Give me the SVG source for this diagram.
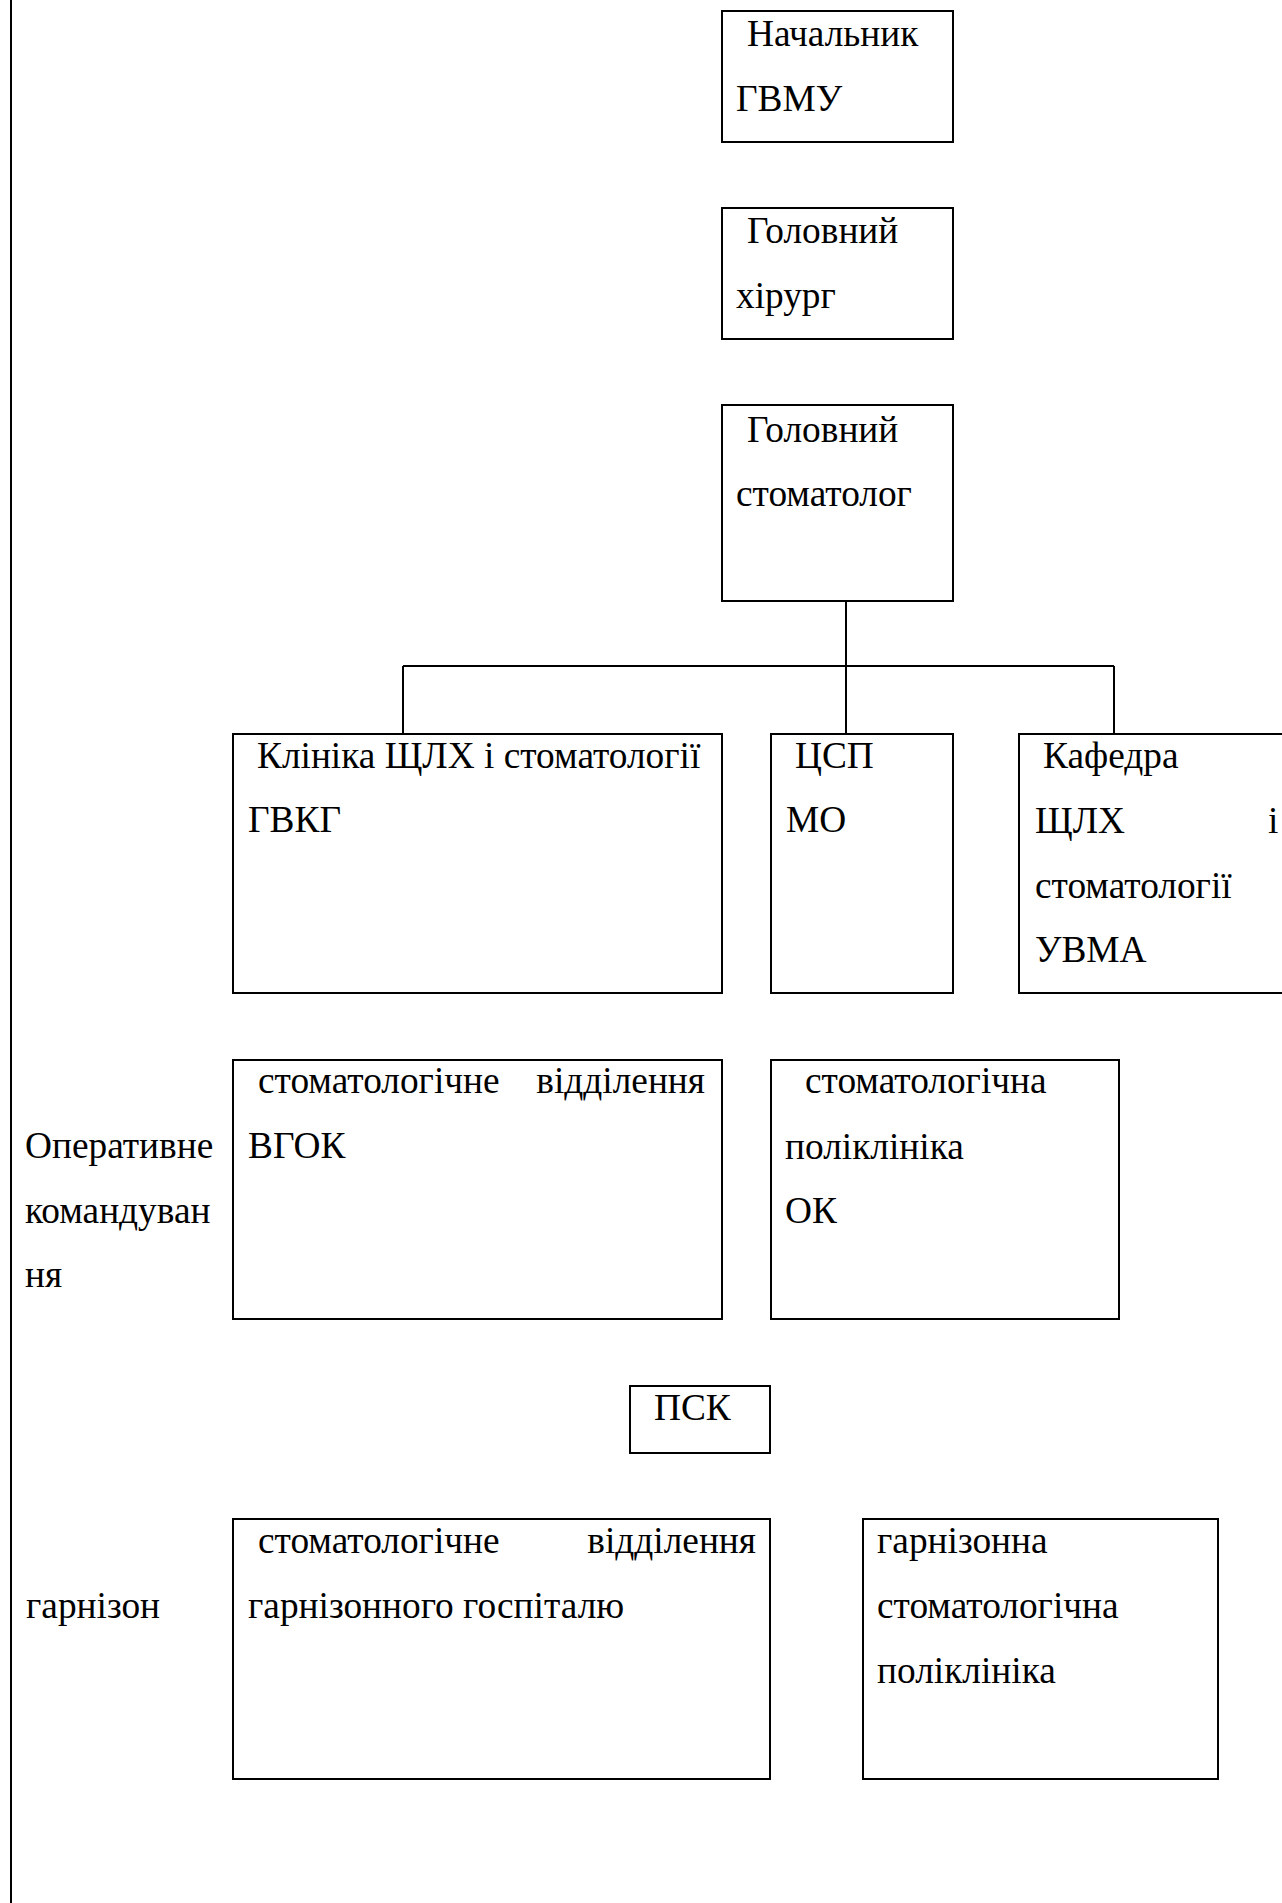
<svg xmlns="http://www.w3.org/2000/svg" width="1282" height="1903" viewBox="0 0 1282 1903">
<style>
rect.box{fill:#fff;stroke:#000;stroke-width:2}
text{font-family:"Liberation Serif","Times New Roman",serif;font-size:37.33px;fill:#000}
.e{text-anchor:end}
line{stroke:#000;stroke-width:2}
</style>
<rect x="0" y="0" width="1282" height="1903" fill="#fff"/>
<line id="leftrule" x1="11" y1="0" x2="11" y2="1903"/>
<g id="connectors">
<line x1="846" y1="601" x2="846" y2="734"/>
<line x1="403" y1="666" x2="1114" y2="666"/>
<line x1="403" y1="666" x2="403" y2="734"/>
<line x1="1114" y1="666" x2="1114" y2="734"/>
</g>
<g id="n-nachalnyk">
<rect class="box" x="722" y="11" width="231" height="131"/>
<text x="747" y="46">Начальник</text>
<text x="736" y="111">ГВМУ</text>
</g>
<g id="n-khirurg">
<rect class="box" x="722" y="208" width="231" height="131"/>
<text x="747" y="243">Головний</text>
<text x="736" y="308">хірург</text>
</g>
<g id="n-stomatolog">
<rect class="box" x="722" y="405" width="231" height="196"/>
<text x="747" y="442">Головний</text>
<text x="736" y="506">стоматолог</text>
</g>
<g id="n-klinika">
<rect class="box" x="233" y="734" width="489" height="259"/>
<text x="257" y="768">Клініка ЩЛХ і стоматології</text>
<text x="248" y="832">ГВКГ</text>
</g>
<g id="n-csp">
<rect class="box" x="771" y="734" width="182" height="259"/>
<text x="795" y="768">ЦСП</text>
<text x="786" y="832">МО</text>
</g>
<g id="n-kafedra">
<rect class="box" x="1019" y="734" width="280" height="259"/>
<text x="1043" y="768">Кафедра</text>
<text x="1035" y="833">ЩЛХ</text>
<text x="1268" y="833">і</text>
<text x="1035" y="898">стоматології</text>
<text x="1035" y="962">УВМА</text>
</g>
<g id="l-operatyvne">
<text x="25" y="1158">Оперативне</text>
<text x="25" y="1223">командуван</text>
<text x="25" y="1287">ня</text>
</g>
<g id="n-vgok">
<rect class="box" x="233" y="1060" width="489" height="259"/>
<text x="258" y="1093">стоматологічне</text>
<text class="e" x="705" y="1093">відділення</text>
<text x="248" y="1158">ВГОК</text>
</g>
<g id="n-ok">
<rect class="box" x="771" y="1060" width="348" height="259"/>
<text x="805" y="1093">стоматологічна</text>
<text x="785" y="1159">поліклініка</text>
<text x="785" y="1223">ОК</text>
</g>
<g id="n-psk">
<rect class="box" x="630" y="1386" width="140" height="67"/>
<text x="654" y="1420">ПСК</text>
</g>
<g id="l-garnizon">
<text x="26" y="1618">гарнізон</text>
</g>
<g id="n-gosp">
<rect class="box" x="233" y="1519" width="537" height="260"/>
<text x="258" y="1553">стоматологічне</text>
<text class="e" x="756" y="1553">відділення</text>
<text x="248" y="1618">гарнізонного госпіталю</text>
</g>
<g id="n-garn-polik">
<rect class="box" x="863" y="1519" width="355" height="260"/>
<text x="877" y="1553">гарнізонна</text>
<text x="877" y="1618">стоматологічна</text>
<text x="877" y="1683">поліклініка</text>
</g>
</svg>
